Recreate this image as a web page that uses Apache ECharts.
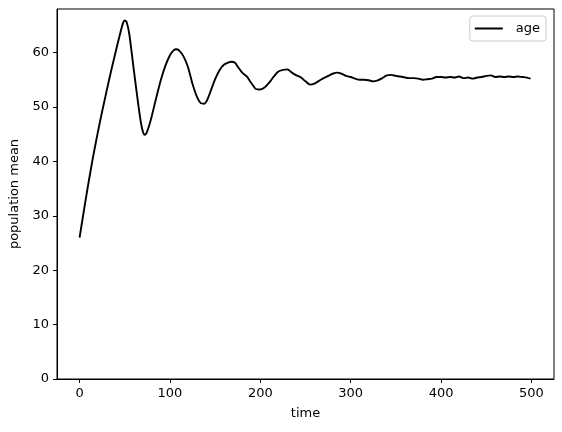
<!DOCTYPE html>
<html>
<head>
<meta charset="utf-8">
<script src="https://cdn.jsdelivr.net/npm/echarts@6/dist/echarts.min.js"></script>
<style>html,body{margin:0;padding:0;background:#fff}#c{width:562px;height:432px}</style>
</head>
<body>
<div id="c"></div>
<script>
const timeSteps = [0,5,10,15,20,25,30,35,40,44,48,50,52,55,60,65,68,70,72,74,77,80,85,90,95,100,104,107,110,115,120,125,130,134,138,141,145,150,155,160,165,168,172,175,180,185,190,195,200,205,210,215,220,225,230,235,240,245,250,255,260,265,270,275,280,285,290,295,300,305,310,315,320,325,330,335,340,345,350,355,360,365,370,375,380,385,390,395,400,405,410,415,420,425,430,435,440,445,450,455,460,465,470,475,480,485,490,495,499];
const ageMean = [26.0,31.2,36.2,40.9,45.2,49.2,53.0,56.7,60.2,62.9,65.4,65.9,65.6,63.4,56.8,50.4,47.0,45.5,44.9,45.2,46.6,48.4,51.8,55.0,57.6,59.5,60.4,60.6,60.4,59.3,57.3,54.2,51.8,50.7,50.6,51.2,52.9,55.1,56.8,57.8,58.2,58.3,58.1,57.4,56.3,55.6,54.4,53.3,53.2,53.6,54.5,55.6,56.5,56.8,56.9,56.3,55.8,55.4,54.7,54.1,54.3,54.8,55.3,55.7,56.1,56.3,56.1,55.7,55.5,55.2,55.0,55.0,54.9,54.7,54.9,55.3,55.8,55.9,55.7,55.6,55.4,55.3,55.3,55.2,55.0,55.1,55.2,55.5,55.5,55.4,55.5,55.4,55.6,55.3,55.4,55.2,55.4,55.5,55.7,55.8,55.5,55.6,55.5,55.6,55.5,55.6,55.5,55.4,55.2];
const xTicks = [0,100,200,300,400,500];
const yTicks = [0,10,20,30,40,50,60];
const seriesName = 'age';

const font = 'DejaVu Sans';
const fs = 13;
const chart = echarts.init(document.getElementById('c'), null, {renderer:'canvas'});
chart.setOption({
  animation: false,
  textStyle: {fontFamily: font},
  grid: {left: 57, right: 8, top: 9, bottom: 53, show: true, borderColor: '#000', borderWidth: 1},
  legend: {
    right: 16, top: 16,
    data: [{name: seriesName, icon: 'rect'}],
    itemWidth: 28, itemHeight: 2,
    padding: [5, 6, 5, 5],
    borderColor: '#ccc', borderWidth: 1, borderRadius: 3,
    backgroundColor: 'rgba(255,255,255,0.8)',
    textStyle: {fontFamily: font, fontSize: fs, color: '#000', padding: [0,0,0,8], lineHeight: 15}
  },
  xAxis: {
    type: 'value', min: -25, max: 525,
    name: 'time', nameLocation: 'middle', nameGap: 28,
    nameTextStyle: {fontFamily: font, fontSize: fs, color: '#000'},
    axisLine: {show: true, onZero: false, lineStyle: {color: '#000', width: 1}},
    axisTick: {show: true, length: 4, customValues: xTicks, lineStyle: {color: '#000'}},
    axisLabel: {customValues: xTicks, margin: 8, fontFamily: font, fontSize: fs, color: '#000'},
    splitLine: {show: false}
  },
  yAxis: {
    type: 'value', min: 0, max: 68,
    name: 'population mean', nameLocation: 'middle', nameGap: 32, nameRotate: 90,
    nameTextStyle: {fontFamily: font, fontSize: fs, color: '#000'},
    axisLine: {show: true, onZero: false, lineStyle: {color: '#000', width: 1}},
    axisTick: {show: true, length: 4, customValues: yTicks, lineStyle: {color: '#000'}},
    axisLabel: {customValues: yTicks, margin: 8, fontFamily: font, fontSize: fs, color: '#000'},
    splitLine: {show: false}
  },
  series: [{
    name: seriesName, type: 'line',
    data: timeSteps.map((t, i) => [t, ageMean[i]]),
    symbol: 'none', smooth: 0.25,
    lineStyle: {color: '#000', width: 1.9},
    itemStyle: {color: '#000'}
  }]
});
</script>
</body>
</html>
